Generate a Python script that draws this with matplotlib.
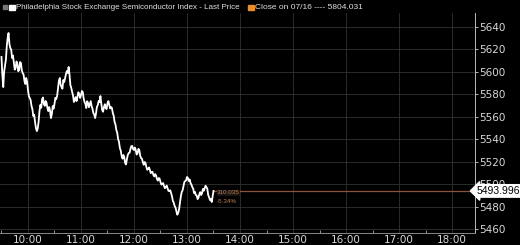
import matplotlib
matplotlib.use("Agg")
from matplotlib import pyplot as plt
import matplotlib.dates as mdates
import pandas as pd

# SOX last price, 1-minute samples from 09:30 to 13:30
last_price = [
    5613.3, 5597.0, 5586.5, 5600.2, 5605.3, 5611.0, 5623.1, 5630.5, 5634.7, 5624.9,
    5621.3, 5619.8, 5612.4, 5614.6, 5607.9, 5602.0, 5603.5, 5609.3, 5607.0, 5600.6,
    5601.7, 5608.8, 5607.9, 5601.3, 5599.0, 5597.6, 5591.9, 5589.2, 5594.6, 5591.0,
    5583.9, 5578.4, 5576.7, 5574.9, 5569.6, 5566.8, 5560.7, 5561.9, 5555.4, 5550.0,
    5547.3, 5549.5, 5555.4, 5565.0, 5570.5, 5568.1, 5575.8, 5577.2, 5571.4, 5569.8,
    5574.1, 5572.6, 5567.8, 5565.1, 5568.7, 5565.5, 5558.9, 5562.4, 5569.6, 5567.3,
    5571.4, 5576.9, 5575.8, 5578.7, 5585.6, 5592.0, 5594.6, 5588.4, 5586.5, 5585.0,
    5592.8, 5590.9, 5594.6, 5598.1, 5600.8, 5599.0, 5604.4, 5597.5, 5588.3, 5585.7,
    5582.1, 5579.0, 5573.2, 5574.8, 5577.6, 5574.0, 5577.6, 5581.9, 5580.3, 5576.8,
    5579.4, 5583.0, 5582.1, 5576.5, 5573.2, 5571.6, 5567.8, 5573.9, 5572.3, 5568.5,
    5571.4, 5574.0, 5569.6, 5567.2, 5563.4, 5562.0, 5558.9, 5563.0, 5568.7, 5570.4,
    5574.1, 5573.0, 5578.5, 5571.8, 5566.0, 5564.5, 5568.7, 5571.2, 5567.8, 5566.9,
    5572.3, 5574.0, 5570.5, 5567.4, 5568.7, 5567.9, 5563.4, 5561.0, 5555.4, 5553.3,
    5548.2, 5545.9, 5540.2, 5537.8, 5532.2, 5529.9, 5525.1, 5522.7, 5526.0, 5523.9,
    5518.8, 5517.6, 5522.4, 5526.1, 5527.7, 5528.0, 5531.3, 5533.9, 5534.0, 5531.2,
    5530.4, 5532.6, 5530.4, 5526.4, 5527.7, 5531.5, 5530.4, 5525.4, 5523.3, 5522.6,
    5519.7, 5517.3, 5519.7, 5518.9, 5515.3, 5512.8, 5513.5, 5514.9, 5512.6, 5509.8,
    5510.8, 5511.0, 5508.1, 5506.9, 5509.0, 5507.7, 5504.6, 5503.2, 5505.5, 5504.9,
    5501.9, 5499.6, 5500.1, 5501.0, 5498.3, 5496.4, 5497.4, 5498.8, 5496.5, 5494.0,
    5493.9, 5494.6, 5492.1, 5489.2, 5485.0, 5483.6, 5480.5, 5479.1, 5476.1, 5472.8,
    5474.3, 5477.5, 5483.2, 5488.9, 5493.0, 5494.4, 5498.3, 5501.9, 5502.8, 5503.4,
    5506.4, 5505.6, 5502.8, 5504.2, 5501.0, 5499.6, 5497.4, 5496.0, 5492.1, 5493.1,
    5490.3, 5489.9, 5486.7, 5488.0, 5491.2, 5492.9, 5490.3, 5491.7, 5495.7, 5494.2,
    5496.5, 5498.6, 5497.4, 5495.8, 5490.3, 5488.4, 5485.9, 5486.6, 5484.1, 5489.0,
    5493.996]
prev_close = 5804.031
last_value = 5493.996
change = 310.035
change_pct = "-5.34%"

times = pd.date_range("2024-07-17 09:30", periods=len(last_price), freq="1min")
day = pd.Timestamp("2024-07-17")

fig = plt.figure(figsize=(5.2, 2.45), dpi=100, facecolor="black")
ax = fig.add_axes([0, 0.049, 0.9135, 0.898])
ax.set_facecolor("black")
plt.rcParams['font.family'] = ['Liberation Sans', 'DejaVu Sans']

ax.plot(times, last_price, color="white", lw=1.3, zorder=3)
# last price line
ax.plot([times[-1], day + pd.Timedelta(hours=18.434)], [last_value, last_value],
        color="#8a5238", lw=0.9, zorder=2)

ax.set_xlim(day + pd.Timedelta(hours=9.472), day + pd.Timedelta(hours=18.434))
ax.set_ylim(5456.5, 5652.5)

ax.xaxis.set_major_locator(mdates.HourLocator())
ax.xaxis.set_minor_locator(mdates.MinuteLocator(byminute=[30]))
ax.xaxis.set_major_formatter(mdates.DateFormatter("%H:%M"))
ax.set_yticks(range(5460, 5641, 20))

ax.yaxis.tick_right()
ax.tick_params(axis="y", colors="#d8d8d8", labelsize=7.5, length=2, width=0.6, direction="out", pad=1)
ax.tick_params(axis="x", which="major", colors="#d8d8d8", labelsize=7.5, length=0, pad=1.5)
ax.tick_params(axis="x", which="minor", color="#aaaaaa", length=2, width=0.6, direction="in")

ax.grid(True, which="major", color="#363636", lw=0.55)
for s in ["left", "top"]:
    ax.spines[s].set_visible(False)
ax.spines["right"].set_color("#bbbbbb")
ax.spines["right"].set_linewidth(0.7)
ax.spines["bottom"].set_color("#888888")
ax.spines["bottom"].set_linewidth(0.7)

# change annotation next to the last point
ax.text(times[-1] + pd.Timedelta(minutes=4), last_value - 1.5, f"{change:.3f}",
        color="#c0804e", fontsize=4.5, va="center", ha="left",
        bbox=dict(facecolor="#1a1412", edgecolor="none", pad=0.3))
ax.text(times[-1] + pd.Timedelta(minutes=4), last_value - 9, change_pct,
        color="#c0804e", fontsize=4.5, va="center", ha="left")

# last value tag on the axis
ax.text(1.004, last_value, f"{last_value:.3f}", transform=ax.get_yaxis_transform(),
        color="black", fontsize=7.5, va="center", ha="left", clip_on=False, zorder=5,
        bbox=dict(boxstyle="larrow,pad=0.12", facecolor="white", edgecolor="white"))

# legend line at the top
fig.patches.append(plt.Rectangle((3 / 520, 1 - 9 / 245), 4 / 520, 4 / 245,
                                 transform=fig.transFigure, color="#777777"))
fig.patches.append(plt.Rectangle((9 / 520, 1 - 10.5 / 245), 5.5 / 520, 5.5 / 245,
                                 transform=fig.transFigure, color="white"))
fig.text(15.5 / 520, 1 - 7.5 / 245, "Philadelphia Stock Exchange Semiconductor Index - Last Price",
         color="#e0e0e0", fontsize=5.8, va="center", ha="left")
fig.patches.append(plt.Rectangle((248 / 520, 1 - 10.5 / 245), 5.5 / 520, 5.5 / 245,
                                 transform=fig.transFigure, color="#e8902a"))
fig.text(255 / 520, 1 - 7.5 / 245, f"Close on 07/16 ---- {prev_close:.3f}",
         color="#e0e0e0", fontsize=6.0, va="center", ha="left")

fig.savefig("out.png", dpi=100, facecolor="black")
